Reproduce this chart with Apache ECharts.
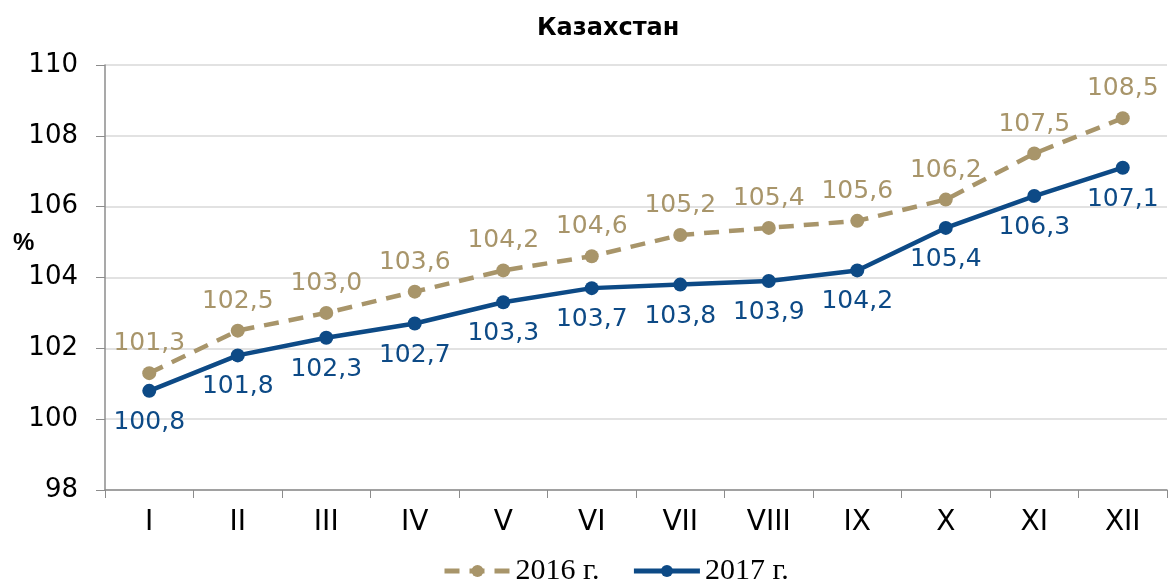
<!DOCTYPE html>
<html>
<head>
<meta charset="utf-8">
<script src="https://cdn.jsdelivr.net/npm/echarts@6/dist/echarts.min.js"></script>
<style>
  html, body { margin: 0; padding: 0; background: #fff; }
  #chart { width: 1173px; height: 588px; }
</style>
</head>
<body>
<div id="chart"></div>
<script>
// месяцы
var months = ['I', 'II', 'III', 'IV', 'V', 'VI', 'VII', 'VIII', 'IX', 'X', 'XI', 'XII'];
var values2016 = [101.3, 102.5, 103.0, 103.6, 104.2, 104.6, 105.2, 105.4, 105.6, 106.2, 107.5, 108.5];
var values2017 = [100.8, 101.8, 102.3, 102.7, 103.3, 103.7, 103.8, 103.9, 104.2, 105.4, 106.3, 107.1];
var seriesNames = ['2016 г.', '2017 г.'];

var gold = '#a8956a';
var blue = '#0d4a86';
var font = 'DejaVu Sans';

function fmt(p) {
  return p.value.toFixed(1).replace('.', ',');
}

var chart = echarts.init(document.getElementById('chart'));
var option = {
  animation: false,
  title: {
    text: 'Казахстан',
    left: 532,
    top: 12,
    textStyle: { fontFamily: font, fontSize: 24, fontWeight: 'bold', color: '#000' }
  },
  graphic: [{
    type: 'text',
    left: 13,
    top: 231,
    style: { text: '%', font: 'bold 24px "Liberation Sans"', fill: '#000' }
  }],
  legend: {
    bottom: -3,
    left: 437,
    itemWidth: 66,
    itemHeight: 15,
    itemGap: 32,
    lineStyle: { width: 5 },
    textStyle: { fontFamily: 'Liberation Serif', fontSize: 30, color: '#000' },
    data: seriesNames
  },
  grid: { left: 105, right: 6, top: 65, bottom: 98 },
  xAxis: {
    type: 'category',
    data: months,
    boundaryGap: true,
    axisLine: { lineStyle: { color: '#8c8c8c', width: 1.5 } },
    axisTick: { show: true, length: 8, lineStyle: { color: '#8c8c8c' } },
    axisLabel: { color: '#000', fontFamily: font, fontSize: 28, margin: 19 }
  },
  yAxis: {
    type: 'value',
    min: 98,
    max: 110,
    interval: 2,
    axisLine: { show: true, lineStyle: { color: '#8c8c8c', width: 1.5 } },
    axisTick: { show: true, length: 9, lineStyle: { color: '#8c8c8c' } },
    splitLine: { lineStyle: { color: '#d9d9d9', width: 1.5 } },
    axisLabel: { color: '#000', fontFamily: font, fontSize: 26, margin: 27 }
  },
  series: [
    {
      name: seriesNames[0],
      type: 'line',
      data: values2016,
      symbol: 'circle',
      symbolSize: 14,
      itemStyle: { color: gold },
      lineStyle: { color: gold, width: 4.5, type: [15, 10] },
      label: {
        show: true, position: 'top', distance: 10, formatter: fmt,
        color: gold, fontFamily: font, fontSize: 25
      }
    },
    {
      name: seriesNames[1],
      type: 'line',
      data: values2017,
      symbol: 'circle',
      symbolSize: 14,
      itemStyle: { color: blue },
      lineStyle: { color: blue, width: 4.5 },
      label: {
        show: true, position: 'bottom', distance: 12, formatter: fmt,
        color: blue, fontFamily: font, fontSize: 25
      }
    }
  ]
};
chart.setOption(option);
</script>
</body>
</html>
